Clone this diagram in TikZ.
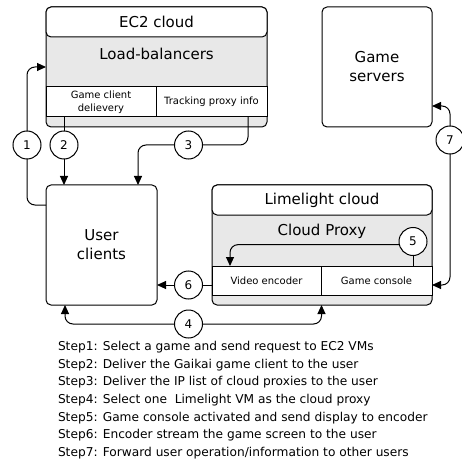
\documentclass[tikz,border=0pt]{standalone}
\usepackage{fontspec}
\setmainfont{DejaVu Sans}
\usetikzlibrary{arrows.meta}
\definecolor{boxgray}{RGB}{232,232,232}
\begin{document}
\begin{tikzpicture}[x=1pt,y=-1pt,
  every node/.style={inner sep=0pt,outer sep=0pt},
  line width=1pt,
  box/.style={draw,rounded corners=5pt,fill=white},
  panel/.style={draw,rounded corners=5pt,fill=boxgray},
  cell/.style={draw,fill=white,minimum height=30pt,align=center,font=\fontsize{10}{13.4}\selectfont},
  big/.style={font=\fontsize{15}{19}\selectfont,align=center},
  num/.style={draw,circle,fill=white,minimum size=28pt,font=\fontsize{12}{14}\selectfont},
  arr/.style={-{Triangle[length=9pt,width=8pt]}},
  conn/.style={rounded corners=8pt},
  steptext/.style={anchor=base west,font=\fontsize{12.2}{14}\selectfont}
]
\useasboundingbox (0,0) rectangle (462,462);
\fill[white] (0,0) rectangle (462,462);

% EC2 cloud
\node[panel,minimum width=221pt,minimum height=120pt] (ec2) at (156.5,67) {};
\node[box,big,minimum width=221pt,minimum height=30pt] (ec2h) at (156.5,22) {EC2 cloud};
\node[big] (lb) at (156.5,54) {Load-balancers};
\node[cell,minimum width=110pt] (gcd) at (101,102) {Game client\\delievery};
\node[cell,minimum width=111pt] (tpi) at (211.5,102) {Tracking proxy info};

% Game servers
\node[box,big,minimum width=110pt,minimum height=120pt] (gs) at (377,67) {Game\\servers};

% User clients
\node[box,big,minimum width=111pt,minimum height=120pt] (uc) at (101.5,245) {User\\clients};

% Limelight cloud
\node[panel,minimum width=220pt,minimum height=120pt] (ll) at (322,245) {};
\node[box,big,minimum width=220pt,minimum height=30pt] (llh) at (322,200) {Limelight cloud};
\node[big] (cp) at (322,231) {Cloud Proxy};
\node[cell,minimum width=109pt,minimum height=29pt] (ve) at (266.5,280.5) {Video encoder};
\node[cell,minimum width=111pt,minimum height=29pt] (gc) at (376.5,280.5) {Game console};

% numbered circles
\node[num] (c1) at (27,145) {1};
\node[num] (c2) at (64,145) {2};
\node[num] (c3) at (188.5,145) {3};
\node[num] (c7) at (450,140) {7};
\node[num] (c5) at (413,241.5) {5};
\node[num] (c6) at (188.5,285) {6};
\node[num] (c4) at (188.5,324) {4};

% connector 1
\draw[conn] ([yshift=-20pt]uc.north west) -| (c1.south);
\draw[conn,arr] (c1.north) |- (ec2.west);
% connector 2
\draw (c2 |- gcd.south) -- (c2.north);
\draw[arr] (c2.south) -- (c2 |- uc.north);
% connector 3
\draw[conn] ([xshift=36.5pt]tpi.south) |- (c3.east);
\draw[conn,arr] (c3.west) -| ([xshift=36.5pt]uc.north);
% connector 7
\draw[conn,arr] (c7.north) |- ([yshift=-39pt]gs.east);
\draw[conn,arr] (c7.south) |- ([yshift=-4.5pt]gc.east);
% connector 6
\draw ([yshift=-4.5pt]ve.west) -- (c6.east);
\draw[arr] (c6.west) -- (uc.east |- c6);
% connector 4
\draw[conn,arr] (c4.west) -| ([xshift=-36.5pt]uc.south);
\draw[conn,arr] (c4.east) -| ([xshift=-0.5pt]ll.south);
% connector 5
\draw (c5 |- gc.north) -- (c5.south);
\draw[conn,arr] (c5.193) -| ([xshift=-36.5pt]ve.north);

% steps
\node[steptext] (s1) at (58,350.5) {Step1: Select a game and send request to EC2 VMs};
\node[steptext] (s2) at (58,368.2) {Step2: Deliver the Gaikai game client to the user};
\node[steptext] (s3) at (58,385.8) {Step3: Deliver the IP list of cloud proxies to the user};
\node[steptext] (s4) at (58,403.5) {Step4: Select one~ Limelight VM as the cloud proxy};
\node[steptext] (s5) at (58,421.2) {Step5: Game console activated and send display to encoder};
\node[steptext] (s6) at (58,438.8) {Step6: Encoder stream the game screen to the user};
\node[steptext] (s7) at (58,456.5) {Step7: Forward user operation/information to other users};
\end{tikzpicture}
\end{document}
